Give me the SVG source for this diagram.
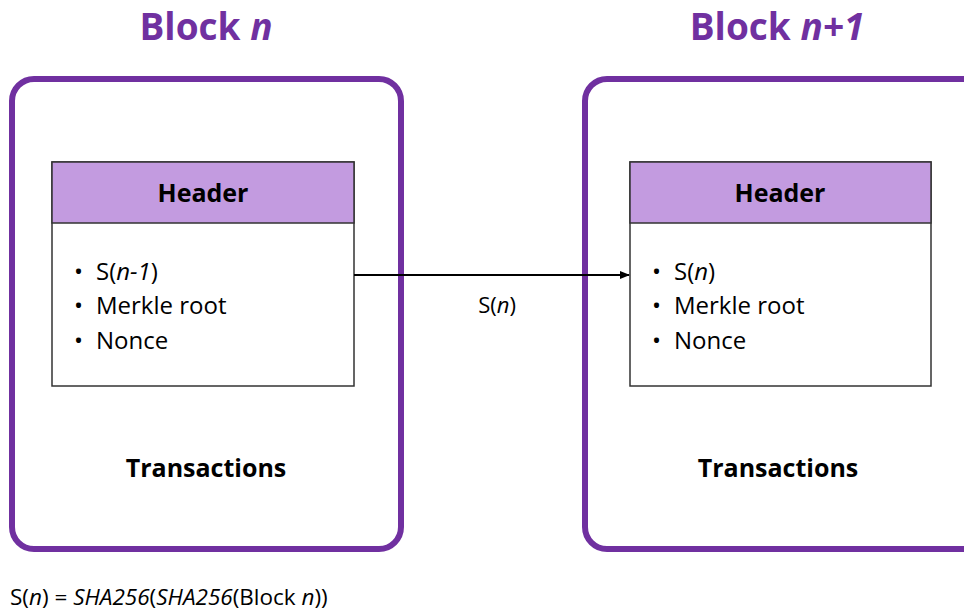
<svg xmlns="http://www.w3.org/2000/svg" width="964" height="612" viewBox="0 0 964 612">
<style>
.t{font-family:"Open Sans",Lato,"Liberation Sans",sans-serif;fill:#000}
.title{font-size:37px;font-weight:bold;fill:#7030A0;text-anchor:middle}
.hd{font-size:25px;font-weight:bold;text-anchor:middle}
.li{font-size:24px}
.tx{font-size:25px;font-weight:bold;text-anchor:middle}
.sm{font-size:22px}
.block{fill:#fff;stroke:#7030A0;stroke-width:6}
.hbox{fill:#fff;stroke:#333;stroke-width:1.5}
.hband{fill:#C39BE0;stroke:#333;stroke-width:1.5}
</style>
<defs>
<marker id="ah" markerWidth="10" markerHeight="10" refX="9" refY="5" orient="auto" markerUnits="userSpaceOnUse">
<path d="M0,1 L10,5 L0,9 Z" fill="#000"/>
</marker>
</defs>
<g id="blockN">
<text class="t title" x="206" y="40">Block <tspan font-style="italic">n</tspan></text>
<rect class="block" x="12" y="79" width="389" height="470" rx="22"/>
<rect class="hbox" x="52" y="162" width="302" height="224"/>
<rect class="hband" x="52" y="162" width="302" height="61"/>
<text class="t hd" x="203" y="202">Header</text>
<text class="t li" y="280"><tspan x="74">•</tspan><tspan x="96">S(</tspan><tspan font-style="italic">n-1</tspan>)</text>
<text class="t li" y="314"><tspan x="74">•</tspan><tspan x="96">Merkle root</tspan></text>
<text class="t li" y="349"><tspan x="74">•</tspan><tspan x="96">Nonce</tspan></text>
<text class="t tx" x="206" y="477">Transactions</text>
</g>
<g id="blockN1">
<text class="t title" x="777" y="40">Block <tspan font-style="italic">n+1</tspan></text>
<rect class="block" x="585" y="79" width="400" height="470" rx="22"/>
<rect class="hbox" x="630" y="162" width="301" height="224"/>
<rect class="hband" x="630" y="162" width="301" height="61"/>
<text class="t hd" x="780" y="202">Header</text>
<text class="t li" y="280"><tspan x="652">•</tspan><tspan x="674">S(</tspan><tspan font-style="italic">n</tspan>)</text>
<text class="t li" y="314"><tspan x="652">•</tspan><tspan x="674">Merkle root</tspan></text>
<text class="t li" y="349"><tspan x="652">•</tspan><tspan x="674">Nonce</tspan></text>
<text class="t tx" x="778" y="477">Transactions</text>
</g>
<g id="connectors">
<line x1="354" y1="275" x2="629" y2="275" stroke="#000" stroke-width="2" marker-end="url(#ah)"/>
<text class="t sm" x="497" y="313" text-anchor="middle">S(<tspan font-style="italic">n</tspan>)</text>
</g>
<g id="formula">
<text class="t" font-size="22.5" x="10" y="605">S(<tspan font-style="italic">n</tspan>) = <tspan font-style="italic">SHA256</tspan>(<tspan font-style="italic">SHA256</tspan>(Block <tspan font-style="italic">n</tspan>))</text>
</g>
</svg>
